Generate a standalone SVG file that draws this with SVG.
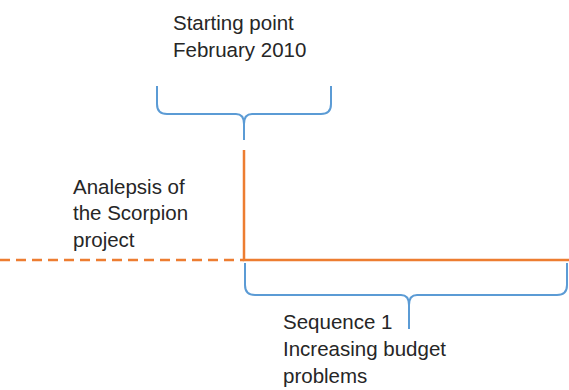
<svg xmlns="http://www.w3.org/2000/svg" width="569" height="390" viewBox="0 0 569 390">
<style>
text{font-family:"Liberation Sans",Arial,sans-serif;font-size:20.5px;fill:#262626}
.brace{fill:none;stroke:#5B9BD5;stroke-width:2}
.tl{fill:none;stroke:#ED7D31;stroke-width:2.5}
</style>
<rect width="569" height="390" fill="#fff"/>
<g id="connectors">
<path class="tl" d="M0 260 H244" stroke-dasharray="10 6"/>
<path class="tl" d="M244 150 V260 H569"/>
</g>
<g id="brace-top">
<path class="brace" d="M157 86 V104 Q157 114 167 114 H236 Q244 114 244 124 V140 M331 86 V104 Q331 114 321 114 H252 Q244 114 244 124"/>
</g>
<g id="brace-bottom">
<path class="brace" d="M245 263 V285 Q245 295 255 295 H401 Q409 295 409 305 V329 M567 263 V285 Q567 295 557 295 H417 Q409 295 409 305"/>
</g>
<g id="label-start">
<text x="173" y="30">Starting point</text>
<text x="173" y="57">February 2010</text>
</g>
<g id="label-analepsis">
<text x="73" y="194">Analepsis of</text>
<text x="73" y="220">the Scorpion</text>
<text x="73" y="247">project</text>
</g>
<g id="label-sequence">
<text x="283" y="329">Sequence 1</text>
<text x="283" y="356">Increasing budget</text>
<text x="283" y="383">problems</text>
</g>
</svg>
